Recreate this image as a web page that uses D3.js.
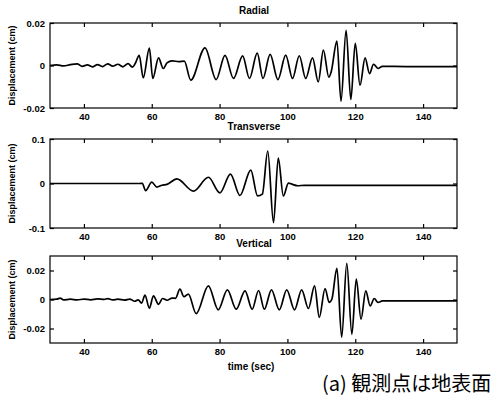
<!DOCTYPE html>
<html>
<head>
<meta charset="utf-8">
<script src="https://cdn.jsdelivr.net/npm/d3@7"></script>
<style>
body{margin:0;background:#fff}
text{font-family:"Liberation Sans",Arial,sans-serif}
</style>
</head>
<body>
<svg id="chart" width="503" height="401"></svg>
<script>
// time axis (sec)
const timeTicks = [40,60,80,100,120,140]

// Radial component, picked peak by peak off the plot
const radialTime = [30,32,34,36,38,39.5,41,42.5,44,45.5,47,48.5,50,51.5,53,54.3,55.2,56.3,57.5,59.3,60.3,62,63.4,64.5,66,68,69.6,
  71.5,75.7,79,81.6,84.1,86.8,88.8,91.1,92.8,94.9,97.2,99.5,101.5,103.5,105.4,107.4,109.1,110.6,112.2,112.9,
  114.6,115.8,117.3,118.7,120,121.4,122.9,124.2,125.4,126.7,128,135,150]
const radialDisp = [0,0.0003,-0.0002,0.0004,0.0008,-0.0004,0.0003,-0.0006,0.0004,-0.0005,0.0008,-0.0003,0.0006,-0.0006,0.0009,-0.0008,0.0012,0.0048,-0.0058,0.0082,-0.0061,0.0036,-0.0014,0.0012,0.0022,0.0018,0.0021,
  -0.0069,0.0083,-0.0066,0.0048,-0.0061,0.0045,-0.0061,0.0058,-0.0061,0.0052,-0.0066,0.0049,-0.0061,0.0046,-0.0061,0.0036,-0.0077,0.0072,-0.0055,-0.0030,
  0.0115,-0.0168,0.0166,-0.0160,0.0104,-0.0093,0.0036,-0.0038,0.0006,-0.0014,-0.0004,-0.0005,-0.0005]

// Transverse component
const transTime = [30,56.5,57.2,58.2,60,61.5,63,64.5,67.4,72.3,76.7,80.1,83.2,86,89.2,91.2,92.6,94.2,95.9,97.3,98.8,100.3,101.5,103,105,150]
const transDisp = [0,0,0.0005,-0.016,0.003,-0.008,-0.004,-0.002,0.0105,-0.017,0.014,-0.021,0.021,-0.027,0.030,-0.028,-0.024,0.073,-0.088,0.057,-0.028,0.001,-0.002,-0.005,-0.004,-0.004]

// Vertical component
const vertTime = [30,32,33,34,36,38,40,42,44,46,47,48.5,50,52,53.5,55,56,57,58,59.3,60.5,62,63.2,64.5,66,67,68.3,69.5,70.8,
  73.1,76.7,79.6,82.3,84.9,87.5,89.6,91.5,93.2,95.3,97.6,99.8,102.1,104.2,106.2,108,109.4,111.1,112.3,113.1,
  114.6,116,117.5,119,120.3,121.7,123.1,124.4,125.6,126.7,128,135,150]
const vertDisp = [0,0.0002,0.001,-0.0003,0.0002,-0.0003,0.0003,-0.0002,0.0004,0.0001,0.0006,-0.0003,0.0002,-0.0004,0.0003,-0.0012,-0.0002,-0.0025,0.003,-0.006,0.0025,-0.0033,0.0007,-0.0005,0.001,0.0008,0.0071,0.0019,0.0037,
  -0.0097,0.0094,-0.0071,0.0067,-0.0067,0.006,-0.0067,0.0062,-0.0067,0.0067,-0.0071,0.0067,-0.0071,0.0067,-0.0062,0.0094,-0.0124,0.0076,-0.002,0.0002,
  0.0214,-0.026,0.025,-0.024,0.014,-0.0136,0.006,-0.0044,0.0007,-0.002,-0.001,-0.001,-0.001]

const panels = [
  {title:'Radial', time:radialTime, disp:radialDisp, domain:[-0.02,0.02], ticks:[-0.02,0,0.02], top:23, bottom:108},
  {title:'Transverse', time:transTime, disp:transDisp, domain:[-0.1,0.1], ticks:[-0.1,0,0.1], top:139, bottom:228},
  {title:'Vertical', time:vertTime, disp:vertDisp, domain:[-0.03,0.03], ticks:[-0.02,0,0.02], top:256, bottom:343}
]

const svg = d3.select('#chart')
const left = 50, right = 457
const x = d3.scaleLinear().domain([30,150]).range([left,right])

panels.forEach(p => {
  const y = d3.scaleLinear().domain(p.domain).range([p.bottom,p.top])
  const g = svg.append('g')

  // ticks pointing inward on all four sides
  const bottomAx = g.append('g').attr('transform',`translate(0,${p.bottom})`)
    .call(d3.axisBottom(x).tickValues(timeTicks).tickSize(-4).tickPadding(5))
  const topAx = g.append('g').attr('transform',`translate(0,${p.top})`)
    .call(d3.axisTop(x).tickValues(timeTicks).tickSize(-4).tickFormat(''))
  const leftAx = g.append('g').attr('transform',`translate(${left},0)`)
    .call(d3.axisLeft(y).tickValues(p.ticks).tickSize(-4).tickPadding(5).tickFormat(d => String(d)))
  const rightAx = g.append('g').attr('transform',`translate(${right},0)`)
    .call(d3.axisRight(y).tickValues(p.ticks).tickSize(-4).tickFormat(''))
  ;[bottomAx,topAx,leftAx,rightAx].forEach(a => {
    a.select('.domain').remove()
    a.selectAll('line').attr('stroke','#000').attr('stroke-width',1.2)
    a.selectAll('text').attr('fill','#000').attr('font-size','9.5px').attr('font-weight','bold')
  })

  g.append('rect')
    .attr('x',left).attr('y',p.top)
    .attr('width',right-left).attr('height',p.bottom-p.top)
    .attr('fill','none').attr('stroke','#000').attr('stroke-width',1.2)

  const line = d3.line()
    .x((d,i) => x(p.time[i]))
    .y(d => y(d))
    .curve(d3.curveMonotoneX)
  g.append('path')
    .attr('d',line(p.disp))
    .attr('fill','none').attr('stroke','#000').attr('stroke-width',1.7)
    .attr('stroke-linejoin','round')

  g.append('text')
    .attr('x',254).attr('y',p.top-9)
    .attr('text-anchor','middle').attr('font-size','10px').attr('font-weight','bold')
    .text(p.title)

  g.append('text')
    .attr('transform',`translate(15,${(p.top+p.bottom)/2}) rotate(-90)`)
    .attr('text-anchor','middle').attr('font-size','9px').attr('font-weight','bold')
    .text('Displacement (cm)')
})

svg.append('text')
  .attr('x',251).attr('y',370)
  .attr('text-anchor','middle').attr('font-size','10px').attr('font-weight','bold')
  .text('time (sec)')

svg.append('text')
  .attr('x',322).attr('y',391)
  .attr('font-size','20px')
  .style('font-family','"Noto Sans CJK JP",sans-serif')
  .text('(a) 観測点は地表面')
</script>
</body>
</html>
